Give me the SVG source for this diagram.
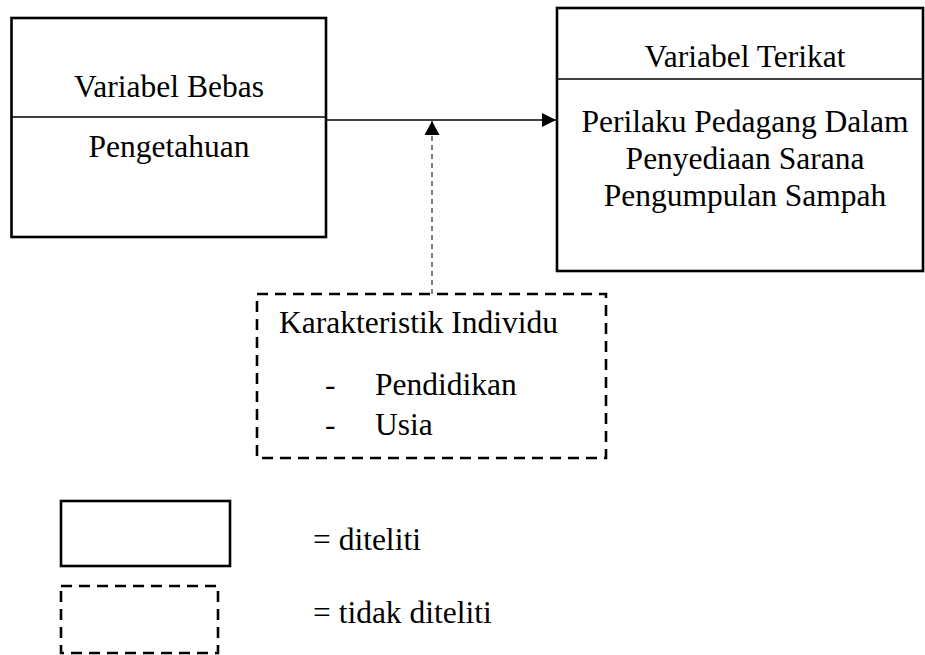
<svg xmlns="http://www.w3.org/2000/svg" width="925" height="655" viewBox="0 0 925 655">
<style>
text{font-family:"Liberation Serif","Times New Roman",serif;font-size:31.5px;fill:#000}
.c{text-anchor:middle}
.box{fill:#fff;stroke:#000;stroke-width:2.6}
.dbox{fill:none;stroke:#000;stroke-width:2.6;stroke-dasharray:11 7}
.div{stroke:#000;stroke-width:1.3}
.conn{stroke:#000;stroke-width:1.3;fill:none}
.dconn{stroke:#000;stroke-width:1;fill:none;stroke-dasharray:5 4}
</style>
<defs>
<marker id="ah" markerWidth="14" markerHeight="14" refX="14" refY="7" orient="auto" markerUnits="userSpaceOnUse">
<path d="M0,0 L14,7 L0,14 Z" fill="#000"/>
</marker>
<marker id="ah2" markerWidth="15" markerHeight="15" refX="14" refY="7.5" orient="auto" markerUnits="userSpaceOnUse">
<path d="M0,0 L14,7.5 L0,15 Z" fill="#000"/>
</marker>
</defs>
<g id="connectors">
<line class="conn" x1="326" y1="120" x2="556" y2="120" marker-end="url(#ah)"/>
<line class="dconn" x1="432" y1="294" x2="432" y2="121" marker-end="url(#ah2)"/>
</g>
<g id="variabel-bebas">
<rect class="box" x="11.5" y="18" width="314.5" height="219"/>
<line class="div" x1="11.5" y1="117" x2="326" y2="117"/>
<text class="c" x="169" y="97">Variabel Bebas</text>
<text class="c" x="169" y="157">Pengetahuan</text>
</g>
<g id="variabel-terikat">
<rect class="box" x="557" y="8" width="366" height="263"/>
<line class="div" x1="557" y1="79" x2="923" y2="79"/>
<text class="c" x="745" y="67">Variabel Terikat</text>
<text class="c" x="745" y="132">Perilaku Pedagang Dalam</text>
<text class="c" x="745" y="169">Penyediaan Sarana</text>
<text class="c" x="745" y="206">Pengumpulan Sampah</text>
</g>
<g id="karakteristik-individu">
<rect class="dbox" x="257" y="294" width="349" height="164"/>
<text x="279" y="333">Karakteristik Individu</text>
<text x="325" y="395">-</text>
<text x="375" y="395">Pendidikan</text>
<text x="325" y="435">-</text>
<text x="375" y="435">Usia</text>
</g>
<g id="legend-diteliti">
<rect class="box" x="61" y="501" width="169" height="65"/>
<text x="313" y="550">= diteliti</text>
</g>
<g id="legend-tidak-diteliti">
<rect class="dbox" x="61" y="586" width="157" height="67"/>
<text x="313" y="623">= tidak diteliti</text>
</g>
</svg>
